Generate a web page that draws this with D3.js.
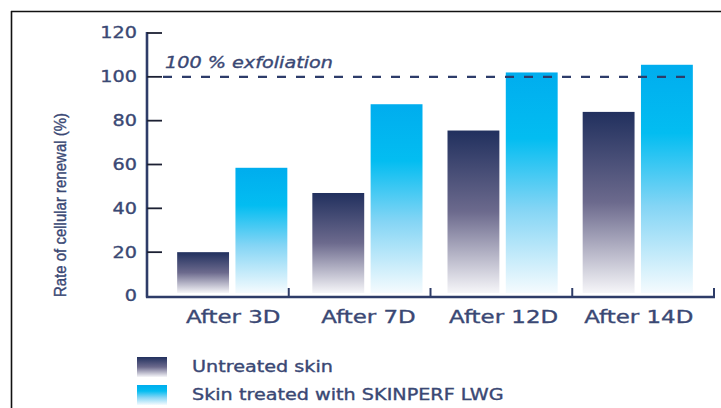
<!DOCTYPE html>
<html>
<head>
<meta charset="utf-8">
<script src="https://cdn.jsdelivr.net/npm/d3@7"></script>
<style>
  html, body { margin: 0; padding: 0; background: #fff; }
  svg { display: block; }
  text { stroke: #3a4874; stroke-width: 0.35px; }
</style>
</head>
<body>
<svg id="chart" width="721" height="408"></svg>
<script>
const categories = ["After 3D", "After 7D", "After 12D", "After 14D"];
const untreated = [20, 47, 75.5, 84];
const treated = [58.5, 87.5, 102, 105.5];
const seriesNames = ["Untreated skin", "Skin treated with SKINPERF LWG"];
const yTicks = [0, 20, 40, 60, 80, 100, 120];
const refValue = 100;
const refLabel = "100 % exfoliation";
const yLabel = "Rate of cellular renewal (%)";

const svg = d3.select("#chart");
const textColor = "#3a4874";
const axisColor = "#2e3c68";
const SX = 1.28;

// gradients
const defs = svg.append("defs");
const g1 = defs.append("linearGradient").attr("id", "gUntreated").attr("x1", 0).attr("y1", 0).attr("x2", 0).attr("y2", 1);
[[0, "#21305e"], [0.5, "#6c6a8d"], [1, "#f6f6f9"]].forEach(([o, c]) => g1.append("stop").attr("offset", o).attr("stop-color", c));
const g2 = defs.append("linearGradient").attr("id", "gTreated").attr("x1", 0).attr("y1", 0).attr("x2", 0).attr("y2", 1);
[[0, "#00adee"], [0.3, "#03bdf1"], [0.62, "#84d5f5"], [1, "#f5fbfe"]].forEach(([o, c]) => g2.append("stop").attr("offset", o).attr("stop-color", c));
const fills = ["url(#gUntreated)", "url(#gTreated)"];

// frame
svg.append("line").attr("x1", 11).attr("x2", 721).attr("y1", 11.5).attr("y2", 11.5).attr("stroke", "#111").attr("stroke-width", 1.6);
svg.append("line").attr("x1", 11.5).attr("x2", 11.5).attr("y1", 11).attr("y2", 408).attr("stroke", "#111").attr("stroke-width", 1.6);

// scales
const y = d3.scaleLinear().domain([0, 120]).range([296, 33]);
const xBars = d3.scaleBand().domain(categories).range([165, 705]).paddingInner(0.185).paddingOuter(0.09);
const xSub = d3.scaleBand().domain([0, 1]).range([0, xBars.bandwidth()]).paddingInner(0.11);
const xAxisBand = d3.scaleBand().domain(categories).range([147, 714]);

// bars
const groups = svg.append("g").selectAll("g").data(categories).join("g")
  .attr("transform", d => `translate(${xBars(d)},0)`);
groups.selectAll("rect").data((d, i) => [untreated[i], treated[i]]).join("rect")
  .attr("x", (d, j) => xSub(j))
  .attr("width", xSub.bandwidth())
  .attr("y", d => y(d))
  .attr("height", d => y(0) - 3 - y(d))
  .attr("fill", (d, j) => fills[j]);

// reference dashed line
svg.append("line")
  .attr("x1", 163).attr("x2", 693)
  .attr("y1", y(refValue)).attr("y2", y(refValue))
  .attr("stroke", "#2d3c6a").attr("stroke-width", 2.2)
  .attr("stroke-dasharray", "9,10");

svg.append("g").attr("transform", `translate(165,${y(refValue) - 9})`)
  .append("text").attr("transform", `scale(${SX},1)`)
  .attr("font-family", "DejaVu Sans").attr("font-style", "italic").attr("font-size", 15)
  .attr("fill", textColor).text(refLabel);

// y axis
svg.append("line").attr("x1", 147).attr("x2", 147).attr("y1", y(120) - 1).attr("y2", y(0) + 1.5)
  .attr("stroke", axisColor).attr("stroke-width", 2.6);
const yt = svg.append("g").selectAll("g").data(yTicks).join("g")
  .attr("transform", d => `translate(0,${y(d)})`);
yt.append("line").attr("x1", 147).attr("x2", 162).attr("stroke", "#1c2033").attr("stroke-width", 1.8)
  .attr("display", d => d === 0 ? "none" : null);
yt.append("g").attr("transform", "translate(137,0)")
  .append("text").attr("transform", `scale(${SX},1)`)
  .attr("text-anchor", "end").attr("dy", "0.36em")
  .attr("font-family", "DejaVu Sans").attr("font-size", 15)
  .attr("fill", textColor).text(d => d);

// x axis
svg.append("line").attr("x1", 146).attr("x2", 715).attr("y1", y(0) + 1).attr("y2", y(0) + 1)
  .attr("stroke", axisColor).attr("stroke-width", 2.6);
svg.append("g").selectAll("line").data(categories).join("line")
  .attr("x1", d => xAxisBand(d) + xAxisBand.bandwidth())
  .attr("x2", d => xAxisBand(d) + xAxisBand.bandwidth())
  .attr("y1", y(0) + 1).attr("y2", y(0) - 8)
  .attr("stroke", axisColor).attr("stroke-width", 2);
svg.append("g").selectAll("g").data(categories).join("g")
  .attr("transform", d => `translate(${xBars(d) + xBars.bandwidth() / 2 + 1},323)`)
  .append("text").attr("transform", `scale(1.31,1)`)
  .attr("text-anchor", "middle")
  .attr("font-family", "DejaVu Sans").attr("font-size", 17.5)
  .attr("fill", textColor).text(d => d);

// y label
svg.append("text")
  .attr("transform", "translate(60,205) rotate(-90) scale(1,1.15)")
  .attr("text-anchor", "middle").attr("dominant-baseline", "central")
  .attr("font-family", "Liberation Sans").attr("font-size", 15)
  .attr("fill", textColor).text(yLabel);

// legend
const leg = svg.append("g").selectAll("g").data(seriesNames).join("g")
  .attr("transform", (d, i) => `translate(137,${357 + i * 28})`);
leg.append("rect").attr("width", 30).attr("height", 20).attr("fill", (d, i) => fills[i]);
leg.append("g").attr("transform", "translate(55,15)")
  .append("text").attr("transform", `scale(${SX},1)`)
  .attr("font-family", "DejaVu Sans").attr("font-size", 15)
  .attr("fill", textColor).text(d => d);
</script>
</body>
</html>
